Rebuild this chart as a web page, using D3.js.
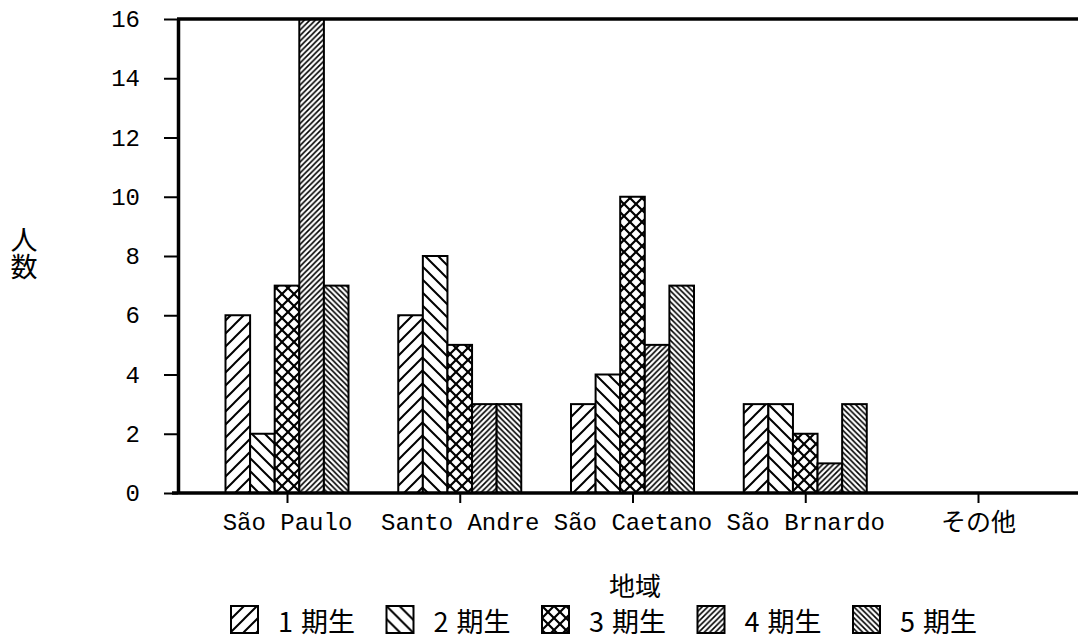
<!DOCTYPE html>
<html>
<head>
<meta charset="utf-8">
<script src="https://cdn.jsdelivr.net/npm/d3@7"></script>
<style>
  body { margin: 0; background: #fff; }
  svg { display: block; }
</style>
</head>
<body>
<div id="vis"></div>
<script>
// frame constants
const FRAME_WIDTH = 1078;
const FRAME_HEIGHT = 639;

// data
const REGIONS = ["São Paulo", "Santo Andre", "São Caetano", "São Brnardo", "その他"];
const SERIES = ["1期生", "2期生", "3期生", "4期生", "5期生"];
const KI1 = [6, 6, 3, 3, 0];
const KI2 = [2, 8, 4, 3, 0];
const KI3 = [7, 5, 10, 2, 0];
const KI4 = [16, 3, 5, 1, 0];
const KI5 = [7, 3, 7, 3, 0];
const Y_TICKS = [0, 2, 4, 6, 8, 10, 12, 14, 16];
const Y_TITLE = "人数";
const X_TITLE = "地域";

const VALUES = [KI1, KI2, KI3, KI4, KI5];

// plot geometry
const AXIS_X = 178;
const TOP_Y = 19;
const BASE_Y = 493;

const MONO = "'Liberation Mono', 'DejaVu Sans Mono', 'Noto Sans CJK JP', monospace";
const CJK = "'Noto Sans CJK JP', sans-serif";

const svg = d3.select("#vis")
  .append("svg")
  .attr("width", FRAME_WIDTH)
  .attr("height", FRAME_HEIGHT);

// hatch patterns, one per series
const defs = svg.append("defs");
function hatch(id, size, dir, sw) {
  const p = defs.append("pattern")
    .attr("id", id)
    .attr("patternUnits", "userSpaceOnUse")
    .attr("width", size)
    .attr("height", size);
  p.append("rect").attr("width", size).attr("height", size).attr("fill", "#fff");
  const paths = [];
  if (dir === "/" || dir === "x") {
    paths.push(`M0,${size} L${size},0 M${-size/2},${size/2} L${size/2},${-size/2} M${size/2},${size*1.5} L${size*1.5},${size/2}`);
  }
  if (dir === "\\" || dir === "x") {
    paths.push(`M0,0 L${size},${size} M${-size/2},${size/2} L${size/2},${size*1.5} M${size/2},${-size/2} L${size*1.5},${size/2}`);
  }
  paths.forEach((d) => {
    p.append("path").attr("d", d).attr("stroke", "#000").attr("stroke-width", sw).attr("fill", "none");
  });
}
hatch("p1", 13, "/", 2);
hatch("p2", 13, "\\", 2);
hatch("p3", 12, "x", 2.2);
hatch("p4", 5.5, "/", 1.6);
hatch("p5", 5.5, "\\", 1.6);
const FILLS = ["url(#p1)", "url(#p2)", "url(#p3)", "url(#p4)", "url(#p5)"];

// scales
const X_SCALE = d3.scalePoint()
  .domain(REGIONS)
  .range([287, 978]);

const X_INNER = d3.scaleBand()
  .domain(SERIES)
  .range([-61.5, 61.5])
  .padding(0);

const Y_SCALE = d3.scaleLinear()
  .domain([0, 16])
  .range([BASE_Y, TOP_Y]);

// bars
const ROWS = [];
REGIONS.forEach((r, i) => {
  SERIES.forEach((s, j) => {
    ROWS.push({region: r, series: s, idx: j, value: VALUES[j][i]});
  });
});

svg.selectAll(".bar")
  .data(ROWS.filter((d) => d.value > 0))
  .enter()
  .append("rect")
  .attr("class", "bar")
  .attr("x", (d) => X_SCALE(d.region) + X_INNER(d.series))
  .attr("y", (d) => Y_SCALE(d.value))
  .attr("width", X_INNER.bandwidth())
  .attr("height", (d) => BASE_Y - Y_SCALE(d.value))
  .attr("fill", (d) => FILLS[d.idx])
  .attr("stroke", "#000")
  .attr("stroke-width", 2);

// left axis
const yAxis = svg.append("g")
  .attr("transform", "translate(" + AXIS_X + ",0)")
  .call(d3.axisLeft(Y_SCALE).tickValues(Y_TICKS).tickSize(14).tickPadding(24).tickSizeOuter(0));
yAxis.select(".domain").attr("stroke-width", 3.5);
yAxis.selectAll(".tick line").attr("stroke-width", 2);
yAxis.selectAll("text")
  .attr("font-family", MONO)
  .attr("font-size", "24px")
  .attr("fill", "#000");

// top frame line
svg.append("line")
  .attr("x1", AXIS_X - 1).attr("x2", FRAME_WIDTH)
  .attr("y1", TOP_Y).attr("y2", TOP_Y)
  .attr("stroke", "#000").attr("stroke-width", 3.5);

// bottom axis
const xAxis = svg.append("g")
  .attr("transform", "translate(0," + BASE_Y + ")")
  .call(d3.axisBottom(X_SCALE).tickSize(10).tickPadding(10).tickSizeOuter(0));
xAxis.select(".domain").remove();
xAxis.selectAll(".tick line").attr("stroke-width", 2);
xAxis.selectAll("text")
  .attr("font-family", MONO)
  .attr("font-size", "24px")
  .attr("fill", "#000");
xAxis.selectAll(".tick text")
  .filter((d) => d === "その他")
  .attr("font-family", CJK)
  .attr("font-size", "25px");
svg.append("line")
  .attr("x1", 172).attr("x2", FRAME_WIDTH)
  .attr("y1", BASE_Y).attr("y2", BASE_Y)
  .attr("stroke", "#000").attr("stroke-width", 3.5);

// axis titles
svg.append("text")
  .attr("x", 24)
  .attr("y", 226)
  .attr("font-family", CJK)
  .attr("font-size", "27px")
  .style("writing-mode", "vertical-rl")
  .text(Y_TITLE);

svg.append("text")
  .attr("x", 635)
  .attr("y", 596)
  .attr("text-anchor", "middle")
  .attr("font-family", CJK)
  .attr("font-size", "26px")
  .text(X_TITLE);

// legend
const legend = svg.selectAll(".legend")
  .data(SERIES)
  .enter()
  .append("g")
  .attr("class", "legend")
  .attr("transform", (d, i) => "translate(" + (231 + i * 155.5) + ",606)");
legend.append("rect")
  .attr("width", 27).attr("height", 27)
  .attr("fill", (d, i) => FILLS[i])
  .attr("stroke", "#000").attr("stroke-width", 2);
const legendText = legend.append("text")
  .attr("x", 47)
  .attr("y", 26)
  .attr("font-family", CJK)
  .attr("font-size", "27px");
legendText.append("tspan").text((d) => d.slice(0, 1));
legendText.append("tspan").attr("dx", 8).text((d) => d.slice(1));
</script>
</body>
</html>
